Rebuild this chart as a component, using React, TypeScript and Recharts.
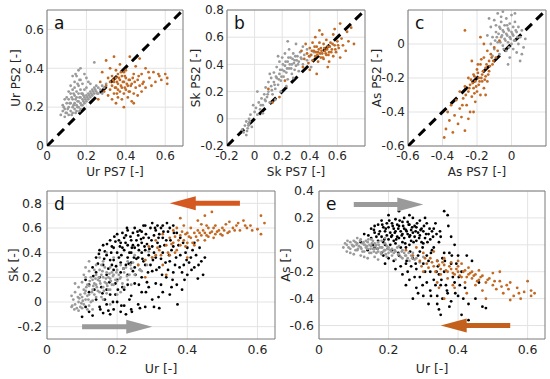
import React from "react";
import {
  ScatterChart, Scatter, XAxis, YAxis, CartesianGrid, ReferenceLine, ReferenceArea, ReferenceDot, Label,
} from "recharts";

type P = [number, number];

// ---------- Panel a: Ur PS7 vs Ur PS2 ----------
const aGray: P[] = [[0.07,0.16],[0.08,0.18],[0.08,0.21],[0.09,0.15],[0.09,0.19],[0.10,0.17],[0.10,0.22],[0.10,0.25],[0.11,0.16],[0.11,0.20],[0.11,0.24],[0.12,0.18],[0.12,0.22],[0.12,0.27],[0.12,0.31],[0.13,0.17],[0.13,0.20],[0.13,0.24],[0.13,0.29],[0.14,0.19],[0.14,0.22],[0.14,0.26],[0.14,0.33],[0.15,0.18],[0.15,0.21],[0.15,0.25],[0.15,0.28],[0.15,0.36],[0.16,0.20],[0.16,0.23],[0.16,0.27],[0.16,0.31],[0.16,0.39],[0.17,0.19],[0.17,0.22],[0.17,0.25],[0.17,0.29],[0.17,0.34],[0.17,0.40],[0.18,0.21],[0.18,0.24],[0.18,0.27],[0.18,0.32],[0.19,0.22],[0.19,0.25],[0.19,0.29],[0.20,0.23],[0.20,0.26],[0.20,0.30],[0.20,0.35],[0.21,0.24],[0.21,0.27],[0.22,0.25],[0.22,0.28],[0.22,0.32],[0.23,0.26],[0.23,0.29],[0.24,0.27],[0.24,0.30],[0.24,0.43],[0.25,0.28],[0.25,0.31],[0.26,0.27],[0.26,0.30],[0.27,0.29],[0.28,0.31],[0.28,0.27],[0.29,0.30],[0.30,0.32],[0.13,0.36],[0.11,0.28],[0.09,0.24],[0.19,0.37],[0.21,0.33],[0.14,0.30]];
const aGray2: P[] = [[0.105,0.19],[0.115,0.22],[0.125,0.16],[0.125,0.25],[0.135,0.21],[0.135,0.27],[0.145,0.17],[0.145,0.24],[0.155,0.20],[0.155,0.23],[0.165,0.25],[0.165,0.18],[0.175,0.21],[0.175,0.27],[0.185,0.23],[0.185,0.26],[0.195,0.24],[0.205,0.25],[0.215,0.26],[0.225,0.27],[0.235,0.28],[0.245,0.29],[0.255,0.27],[0.095,0.17],[0.085,0.20],[0.155,0.32],[0.145,0.37],[0.165,0.34]];
const aOrange: P[] = [[0.26,0.24],[0.27,0.33],[0.28,0.38],[0.29,0.28],[0.30,0.31],[0.30,0.44],[0.31,0.26],[0.31,0.35],[0.32,0.29],[0.32,0.33],[0.32,0.40],[0.33,0.24],[0.33,0.31],[0.33,0.36],[0.34,0.27],[0.34,0.33],[0.35,0.22],[0.35,0.30],[0.35,0.35],[0.35,0.39],[0.36,0.25],[0.36,0.32],[0.36,0.37],[0.37,0.28],[0.37,0.34],[0.37,0.42],[0.38,0.24],[0.38,0.30],[0.38,0.36],[0.39,0.27],[0.39,0.33],[0.39,0.20],[0.40,0.29],[0.40,0.35],[0.40,0.39],[0.41,0.25],[0.41,0.31],[0.42,0.28],[0.42,0.34],[0.42,0.46],[0.43,0.23],[0.43,0.32],[0.44,0.27],[0.44,0.37],[0.45,0.30],[0.45,0.41],[0.46,0.26],[0.46,0.34],[0.47,0.31],[0.47,0.45],[0.48,0.28],[0.48,0.37],[0.49,0.33],[0.50,0.30],[0.50,0.40],[0.52,0.35],[0.53,0.31],[0.54,0.38],[0.55,0.33],[0.57,0.36],[0.58,0.34],[0.60,0.37],[0.61,0.35],[0.61,0.32],[0.34,0.46],[0.44,0.22],[0.39,0.38],[0.36,0.29]];
const aOrange2: P[] = [[0.335,0.34],[0.345,0.30],[0.355,0.33],[0.365,0.35],[0.375,0.31],[0.385,0.33],[0.395,0.30],[0.405,0.32],[0.415,0.34],[0.425,0.31],[0.435,0.35],[0.445,0.33],[0.375,0.38],[0.355,0.27],[0.395,0.36],[0.415,0.28],[0.465,0.36],[0.485,0.32],[0.515,0.38],[0.565,0.37]];

// ---------- Panel b: Sk PS7 vs Sk PS2 ----------
const bGray: P[] = [[-0.09,-0.08],[-0.08,-0.10],[-0.07,-0.05],[-0.06,-0.12],[-0.06,-0.02],[-0.05,-0.07],[-0.04,0.00],[-0.04,-0.04],[-0.03,0.03],[-0.02,-0.06],[0.00,0.05],[0.01,0.08],[0.02,0.03],[0.03,0.12],[0.04,0.07],[0.05,0.15],[0.06,0.10],[0.07,0.18],[0.08,0.13],[0.08,0.23],[0.09,0.16],[0.10,0.20],[0.10,0.27],[0.11,0.12],[0.12,0.24],[0.12,0.30],[0.13,0.18],[0.14,0.27],[0.14,0.34],[0.15,0.22],[0.16,0.30],[0.16,0.38],[0.17,0.25],[0.18,0.33],[0.18,0.42],[0.19,0.28],[0.20,0.36],[0.20,0.45],[0.21,0.31],[0.22,0.39],[0.22,0.48],[0.23,0.34],[0.24,0.42],[0.24,0.29],[0.25,0.37],[0.25,0.51],[0.26,0.45],[0.27,0.33],[0.27,0.40],[0.28,0.48],[0.29,0.36],[0.29,0.43],[0.30,0.39],[0.30,0.55],[0.31,0.46],[0.32,0.42],[0.32,0.35],[0.33,0.49],[0.34,0.44],[0.35,0.40],[0.35,0.53],[0.36,0.47],[0.38,0.43],[0.38,0.51],[0.40,0.46],[0.41,0.38],[0.43,0.49],[0.06,0.04],[0.15,0.14],[0.19,0.20],[0.23,0.24],[0.28,0.30],[0.11,0.33],[0.17,0.46],[0.24,0.57],[0.02,0.20],[-0.01,0.10]];
const bGray2: P[] = [[0.145,0.25],[0.155,0.31],[0.175,0.29],[0.185,0.36],[0.195,0.31],[0.205,0.40],[0.215,0.35],[0.225,0.42],[0.235,0.37],[0.245,0.45],[0.255,0.40],[0.265,0.37],[0.275,0.44],[0.285,0.41],[0.295,0.46],[0.305,0.43],[0.315,0.40],[0.335,0.45],[0.125,0.21],[0.095,0.18],[0.075,0.14],[0.045,0.10],[-0.035,-0.02],[-0.055,-0.09],[-0.045,-0.05]];
const bOrange: P[] = [[0.10,0.22],[0.13,0.12],[0.18,0.16],[0.22,0.28],[0.34,0.50],[0.36,0.44],[0.37,0.55],[0.38,0.48],[0.39,0.41],[0.40,0.52],[0.41,0.47],[0.42,0.56],[0.42,0.43],[0.43,0.50],[0.44,0.46],[0.44,0.60],[0.45,0.53],[0.46,0.42],[0.46,0.49],[0.47,0.56],[0.48,0.45],[0.48,0.52],[0.49,0.48],[0.49,0.62],[0.50,0.55],[0.50,0.44],[0.51,0.50],[0.52,0.47],[0.52,0.58],[0.53,0.53],[0.54,0.49],[0.54,0.42],[0.55,0.56],[0.56,0.51],[0.57,0.46],[0.57,0.62],[0.58,0.54],[0.59,0.49],[0.60,0.57],[0.61,0.52],[0.62,0.45],[0.63,0.59],[0.64,0.54],[0.66,0.50],[0.67,0.64],[0.68,0.57],[0.70,0.67],[0.72,0.55],[0.40,0.36],[0.45,0.33],[0.53,0.38],[0.58,0.66],[0.47,0.65],[0.35,0.38],[0.62,0.70]];
const bOrange2: P[] = [[0.455,0.47],[0.465,0.51],[0.475,0.48],[0.485,0.50],[0.495,0.45],[0.505,0.52],[0.515,0.48],[0.525,0.51],[0.535,0.47],[0.545,0.53],[0.555,0.49],[0.565,0.55],[0.435,0.53],[0.445,0.49],[0.415,0.50],[0.395,0.46],[0.585,0.51],[0.605,0.54]];

// ---------- Panel c: As PS7 vs As PS2 ----------
const cGray: P[] = [[-0.14,0.05],[-0.12,0.00],[-0.12,0.10],[-0.11,0.04],[-0.10,-0.03],[-0.10,0.14],[-0.09,0.07],[-0.08,0.01],[-0.08,0.18],[-0.07,0.10],[-0.07,-0.06],[-0.06,0.04],[-0.06,0.13],[-0.05,-0.01],[-0.05,0.08],[-0.05,0.19],[-0.04,0.03],[-0.04,0.11],[-0.03,-0.04],[-0.03,0.06],[-0.03,0.15],[-0.02,0.01],[-0.02,0.09],[-0.01,-0.08],[-0.01,0.04],[-0.01,0.12],[0.00,0.00],[0.00,0.07],[0.00,0.17],[0.01,-0.03],[0.01,0.05],[0.01,0.10],[0.02,0.02],[0.02,0.13],[0.03,-0.05],[0.03,0.07],[0.04,0.00],[0.04,0.10],[0.05,-0.10],[0.05,0.04],[0.06,0.08],[0.07,-0.02],[0.08,0.03],[-0.09,0.11],[-0.13,0.15],[-0.02,-0.12],[0.02,0.18],[-0.06,0.16],[-0.11,-0.07],[0.06,-0.06]];
const cGray2: P[] = [[-0.085,0.04],[-0.075,0.06],[-0.065,0.01],[-0.055,0.05],[-0.045,0.07],[-0.035,0.02],[-0.025,0.05],[-0.015,0.08],[-0.005,0.03],[0.005,0.06],[0.015,0.02],[0.025,0.08],[-0.065,0.09],[-0.045,-0.03],[-0.025,0.11],[0.035,0.04],[-0.095,0.02],[-0.015,-0.02]];
const cOrange: P[] = [[-0.39,-0.55],[-0.38,-0.50],[-0.37,-0.40],[-0.36,-0.45],[-0.35,-0.36],[-0.34,-0.52],[-0.33,-0.42],[-0.32,-0.33],[-0.31,-0.47],[-0.30,-0.38],[-0.30,-0.28],[-0.29,-0.43],[-0.28,-0.32],[-0.27,-0.25],[-0.27,-0.51],[-0.26,-0.36],[-0.25,-0.28],[-0.25,-0.20],[-0.24,-0.40],[-0.24,-0.24],[-0.23,-0.31],[-0.22,-0.18],[-0.22,-0.26],[-0.21,-0.22],[-0.21,-0.34],[-0.20,-0.15],[-0.20,-0.28],[-0.19,-0.20],[-0.19,-0.24],[-0.18,-0.12],[-0.18,-0.30],[-0.17,-0.18],[-0.17,-0.22],[-0.16,-0.08],[-0.16,-0.26],[-0.15,-0.14],[-0.15,-0.19],[-0.14,-0.04],[-0.14,-0.22],[-0.13,-0.10],[-0.13,-0.16],[-0.12,-0.06],[-0.11,-0.12],[-0.10,-0.02],[-0.09,-0.08],[-0.08,-0.04],[-0.07,0.02],[-0.27,0.08],[-0.18,0.04],[-0.25,-0.44],[-0.22,-0.40],[-0.15,-0.30],[-0.23,-0.10],[-0.16,0.00]];
const cOrange2: P[] = [[-0.245,-0.26],[-0.235,-0.21],[-0.225,-0.23],[-0.215,-0.19],[-0.205,-0.25],[-0.195,-0.17],[-0.185,-0.22],[-0.175,-0.20],[-0.165,-0.16],[-0.155,-0.21],[-0.145,-0.12],[-0.135,-0.18],[-0.125,-0.13],[-0.115,-0.08],[-0.105,-0.10],[-0.265,-0.30],[-0.285,-0.36],[-0.215,-0.29],[-0.195,-0.12],[-0.175,-0.09]];

// ---------- Panel d: Ur vs Sk ----------
const dGray: P[] = [[0.07,-0.04],[0.07,0.05],[0.08,-0.02],[0.08,0.08],[0.09,0.00],[0.09,0.12],[0.10,-0.05],[0.10,0.04],[0.10,0.16],[0.11,0.02],[0.11,0.09],[0.11,0.20],[0.12,-0.03],[0.12,0.06],[0.12,0.13],[0.12,0.25],[0.13,0.01],[0.13,0.10],[0.13,0.18],[0.14,0.04],[0.14,0.14],[0.14,0.22],[0.14,0.30],[0.15,0.08],[0.15,0.17],[0.15,0.26],[0.16,0.02],[0.16,0.12],[0.16,0.20],[0.16,0.33],[0.17,0.07],[0.17,0.15],[0.17,0.24],[0.18,0.10],[0.18,0.19],[0.18,0.28],[0.19,0.14],[0.19,0.22],[0.19,0.36],[0.20,0.06],[0.20,0.17],[0.20,0.26],[0.21,0.20],[0.21,0.30],[0.22,0.12],[0.22,0.24],[0.23,0.18],[0.23,0.33],[0.24,0.27],[0.25,0.22],[0.25,0.38],[0.26,0.30],[0.27,0.25],[0.28,0.34],[0.29,0.41],[0.30,0.36],[0.09,-0.07],[0.13,-0.06],[0.15,0.36],[0.18,-0.02],[0.11,0.28],[0.17,0.40],[0.21,0.08],[0.24,0.14],[0.08,0.15],[0.12,0.33]];
const dGray2: P[] = [[0.075,0.02],[0.085,-0.05],[0.095,0.06],[0.105,0.10],[0.105,-0.02],[0.115,0.14],[0.115,0.05],[0.125,0.20],[0.125,0.00],[0.135,0.15],[0.135,0.06],[0.145,0.18],[0.145,0.09],[0.155,0.22],[0.155,0.04],[0.165,0.16],[0.165,0.28],[0.175,0.10],[0.175,0.20],[0.185,0.14],[0.185,0.24],[0.195,0.18],[0.205,0.22],[0.215,0.15],[0.225,0.28],[0.235,0.22],[0.245,0.32],[0.265,0.26],[0.285,0.30],[0.105,0.22],[0.135,0.26],[0.155,0.30],[0.095,-0.04],[0.115,-0.06]];
const dGray3: P[] = [[0.078,-0.06],[0.092,0.03],[0.098,-0.01],[0.108,0.07],[0.112,0.12],[0.118,0.02],[0.122,0.17],[0.128,0.08],[0.132,0.13],[0.138,0.19],[0.142,0.12],[0.148,0.20],[0.152,0.15],[0.158,0.25],[0.162,0.09],[0.168,0.19],[0.172,0.13],[0.178,0.23],[0.182,0.17],[0.188,0.21],[0.198,0.24],[0.208,0.19],[0.218,0.27],[0.228,0.21],[0.238,0.30],[0.102,0.01],[0.088,0.04],[0.072,-0.03]];
const dBlack: P[] = [[0.10,-0.12],[0.11,0.18],[0.12,-0.08],[0.12,0.08],[0.13,0.28],[0.13,-0.11],[0.14,0.36],[0.14,0.02],[0.15,0.42],[0.15,-0.04],[0.15,0.20],[0.16,0.30],[0.16,0.46],[0.16,-0.09],[0.17,0.38],[0.17,0.10],[0.17,-0.02],[0.18,0.50],[0.18,0.34],[0.18,0.06],[0.19,0.44],[0.19,0.26],[0.19,-0.06],[0.20,0.55],[0.20,0.40],[0.20,0.18],[0.20,0.00],[0.21,0.48],[0.21,0.32],[0.21,-0.08],[0.22,0.52],[0.22,0.42],[0.22,0.10],[0.22,-0.03],[0.23,0.58],[0.23,0.46],[0.23,0.36],[0.23,0.22],[0.24,0.50],[0.24,0.40],[0.24,0.05],[0.24,-0.06],[0.25,0.60],[0.25,0.44],[0.25,0.28],[0.25,0.15],[0.26,0.54],[0.26,0.36],[0.26,-0.02],[0.27,0.57],[0.27,0.48],[0.27,0.20],[0.27,0.08],[0.28,0.62],[0.28,0.42],[0.28,0.30],[0.28,-0.04],[0.29,0.52],[0.29,0.12],[0.30,0.64],[0.30,0.45],[0.30,0.25],[0.30,0.02],[0.31,0.58],[0.31,0.36],[0.31,0.15],[0.32,0.55],[0.32,0.28],[0.32,-0.05],[0.33,0.62],[0.33,0.40],[0.33,0.08],[0.34,0.50],[0.34,0.20],[0.35,0.60],[0.35,0.33],[0.35,0.06],[0.36,0.45],[0.36,0.24],[0.37,0.56],[0.37,0.14],[0.38,0.38],[0.38,0.52],[0.39,0.30],[0.40,0.44],[0.40,0.22],[0.41,0.36],[0.42,0.48],[0.42,0.28],[0.43,0.19],[0.44,0.33],[0.45,0.36],[0.19,0.34],[0.21,0.24],[0.23,0.14],[0.26,0.46],[0.29,0.38],[0.14,0.24],[0.12,0.14],[0.17,0.22],[0.33,0.52],[0.36,0.62],[0.24,0.32],[0.27,0.40],[0.18,-0.10],[0.11,-0.04]];
const dBlack2: P[] = [[0.145,0.31],[0.155,0.12],[0.165,0.41],[0.175,0.27],[0.185,0.45],[0.195,0.15],[0.205,0.36],[0.205,0.50],[0.215,0.12],[0.215,0.44],[0.225,0.30],[0.225,0.54],[0.235,0.40],[0.235,0.02],[0.245,0.25],[0.245,0.56],[0.255,0.35],[0.255,0.50],[0.265,0.26],[0.265,0.58],[0.275,0.33],[0.275,0.52],[0.285,0.47],[0.285,0.16],[0.295,0.60],[0.295,0.30],[0.305,0.40],[0.305,0.54],[0.315,0.48],[0.315,0.62],[0.325,0.35],[0.325,0.60],[0.335,0.46],[0.345,0.57],[0.355,0.42],[0.365,0.30],[0.375,0.46],[0.385,0.24],[0.395,0.40],[0.405,0.32],[0.425,0.38],[0.445,0.22],[0.325,0.14],[0.305,-0.04],[0.265,-0.05],[0.225,-0.10],[0.195,0.06],[0.175,-0.07],[0.135,0.10],[0.165,0.02],[0.185,0.30],[0.245,0.46],[0.275,0.62],[0.215,0.56],[0.195,0.49],[0.345,0.26],[0.355,0.12],[0.385,0.10],[0.415,0.42],[0.435,0.44]];
const dBlack3: P[] = [[0.132,0.21],[0.148,0.39],[0.158,0.07],[0.163,0.35],[0.171,0.47],[0.178,0.16],[0.183,0.40],[0.192,0.53],[0.197,0.29],[0.202,0.10],[0.208,0.45],[0.212,0.38],[0.218,0.27],[0.224,0.48],[0.228,0.60],[0.233,0.31],[0.238,0.53],[0.242,0.44],[0.248,0.36],[0.252,0.22],[0.258,0.57],[0.262,0.42],[0.268,0.51],[0.272,0.35],[0.278,0.45],[0.282,0.55],[0.288,0.24],[0.292,0.43],[0.298,0.50],[0.302,0.34],[0.308,0.60],[0.312,0.26],[0.318,0.52],[0.322,0.45],[0.328,0.22],[0.332,0.57],[0.338,0.32],[0.342,0.64],[0.348,0.38],[0.352,0.50],[0.358,0.18],[0.362,0.56],[0.368,0.36],[0.378,0.28],[0.388,0.48],[0.398,0.34],[0.412,0.26],[0.432,0.30],[0.262,0.14],[0.282,0.08],[0.242,-0.08],[0.212,-0.03],[0.152,-0.06],[0.188,0.00],[0.318,0.04],[0.372,-0.02],[0.392,0.18]];
const dOrange: P[] = [[0.26,0.30],[0.28,0.20],[0.29,0.45],[0.30,0.36],[0.31,0.50],[0.32,0.42],[0.33,0.30],[0.33,0.55],[0.34,0.46],[0.35,0.38],[0.35,0.52],[0.36,0.58],[0.36,0.48],[0.37,0.42],[0.37,0.60],[0.38,0.54],[0.38,0.46],[0.39,0.50],[0.39,0.62],[0.40,0.56],[0.40,0.48],[0.41,0.52],[0.41,0.60],[0.42,0.56],[0.42,0.46],[0.43,0.58],[0.43,0.50],[0.44,0.54],[0.44,0.63],[0.45,0.56],[0.45,0.50],[0.46,0.60],[0.46,0.53],[0.47,0.57],[0.47,0.73],[0.48,0.55],[0.48,0.62],[0.49,0.58],[0.50,0.60],[0.50,0.54],[0.51,0.63],[0.52,0.57],[0.52,0.65],[0.53,0.60],[0.54,0.62],[0.55,0.58],[0.56,0.66],[0.57,0.60],[0.58,0.62],[0.60,0.59],[0.61,0.70],[0.61,0.55],[0.62,0.64],[0.34,0.22],[0.31,0.38],[0.40,0.36],[0.45,0.70],[0.43,0.66],[0.38,0.68],[0.28,0.34]];
const dOrange2: P[] = [[0.345,0.40],[0.355,0.47],[0.365,0.53],[0.375,0.50],[0.385,0.57],[0.395,0.45],[0.405,0.53],[0.415,0.48],[0.425,0.53],[0.435,0.56],[0.445,0.58],[0.455,0.54],[0.465,0.56],[0.475,0.60],[0.485,0.57],[0.495,0.55],[0.505,0.58],[0.515,0.56],[0.535,0.58],[0.545,0.64],[0.565,0.62],[0.585,0.58],[0.325,0.38],[0.315,0.44],[0.365,0.40],[0.395,0.55],[0.455,0.62],[0.475,0.52]];

// ---------- Panel e: Ur vs As ----------
const eGray: P[] = [[0.07,-0.02],[0.08,0.00],[0.08,-0.05],[0.09,0.02],[0.09,-0.03],[0.10,-0.01],[0.10,0.03],[0.10,-0.07],[0.11,0.01],[0.11,-0.04],[0.12,-0.02],[0.12,0.04],[0.12,-0.08],[0.13,0.00],[0.13,-0.05],[0.14,0.02],[0.14,-0.03],[0.14,-0.10],[0.15,-0.01],[0.15,0.04],[0.15,-0.06],[0.16,-0.03],[0.16,0.01],[0.16,-0.09],[0.17,-0.05],[0.17,0.02],[0.18,-0.02],[0.18,-0.07],[0.19,-0.04],[0.19,0.01],[0.20,-0.06],[0.20,-0.02],[0.21,-0.08],[0.21,-0.03],[0.22,-0.05],[0.22,-0.11],[0.23,-0.07],[0.24,-0.04],[0.24,-0.10],[0.25,-0.08],[0.26,-0.12],[0.27,-0.06],[0.28,-0.10],[0.29,-0.13],[0.30,-0.09],[0.11,0.05],[0.13,-0.09],[0.17,-0.11],[0.19,0.05],[0.23,-0.01],[0.09,-0.06],[0.18,0.03]];
const eGray2: P[] = [[0.075,0.01],[0.085,-0.02],[0.095,0.00],[0.105,0.02],[0.105,-0.04],[0.115,-0.01],[0.125,0.01],[0.125,-0.05],[0.135,-0.02],[0.135,0.03],[0.145,-0.06],[0.145,0.00],[0.155,-0.03],[0.165,-0.06],[0.165,0.00],[0.175,-0.02],[0.185,-0.05],[0.195,-0.01],[0.205,-0.04],[0.215,-0.06],[0.225,-0.02],[0.235,-0.09],[0.245,-0.06],[0.255,-0.10],[0.265,-0.08],[0.275,-0.11],[0.195,-0.09],[0.155,0.03]];
const eGray3: P[] = [[0.082,0.03],[0.098,-0.01],[0.108,0.00],[0.118,0.03],[0.122,-0.03],[0.128,0.02],[0.138,-0.01],[0.142,0.04],[0.148,-0.03],[0.152,0.01],[0.158,-0.05],[0.162,-0.01],[0.168,-0.03],[0.172,0.00],[0.178,-0.06],[0.182,-0.02],[0.188,-0.04],[0.192,-0.07],[0.198,-0.03],[0.208,-0.05],[0.218,-0.04],[0.228,-0.07],[0.238,-0.05],[0.248,-0.08],[0.258,-0.06],[0.268,-0.10],[0.112,-0.03],[0.132,0.00]];
const eBlack: P[] = [[0.12,0.02],[0.13,0.08],[0.14,-0.04],[0.15,0.05],[0.15,0.12],[0.16,-0.02],[0.16,0.09],[0.17,0.03],[0.17,0.15],[0.18,-0.06],[0.18,0.06],[0.18,0.18],[0.19,0.00],[0.19,0.10],[0.20,0.04],[0.20,0.13],[0.20,0.22],[0.20,-0.10],[0.21,0.07],[0.21,0.16],[0.21,-0.04],[0.22,0.01],[0.22,0.10],[0.22,0.19],[0.22,-0.18],[0.23,0.05],[0.23,0.14],[0.23,-0.08],[0.24,0.08],[0.24,0.02],[0.24,-0.22],[0.24,0.17],[0.25,0.11],[0.25,-0.02],[0.25,-0.14],[0.26,0.06],[0.26,0.15],[0.26,-0.26],[0.26,0.00],[0.27,0.09],[0.27,-0.10],[0.27,0.20],[0.28,0.03],[0.28,0.13],[0.28,-0.18],[0.28,-0.32],[0.29,0.07],[0.29,-0.05],[0.29,-0.24],[0.30,0.10],[0.30,-0.14],[0.30,0.01],[0.30,-0.38],[0.31,0.16],[0.31,-0.08],[0.31,-0.28],[0.32,0.04],[0.32,-0.20],[0.32,-0.34],[0.33,0.12],[0.33,-0.02],[0.33,-0.26],[0.34,-0.12],[0.34,-0.44],[0.35,0.06],[0.35,-0.30],[0.35,-0.52],[0.36,0.25],[0.36,-0.06],[0.36,-0.20],[0.37,0.22],[0.37,-0.36],[0.38,-0.14],[0.38,-0.42],[0.39,0.00],[0.39,-0.28],[0.40,-0.08],[0.40,-0.38],[0.41,-0.20],[0.41,-0.52],[0.42,-0.32],[0.43,-0.44],[0.44,-0.12],[0.45,-0.40],[0.46,-0.28],[0.47,-0.46],[0.48,-0.47],[0.27,-0.40],[0.25,-0.30],[0.19,-0.14],[0.23,0.25],[0.16,0.14],[0.38,0.06],[0.43,-0.56],[0.34,-0.38],[0.29,0.18],[0.26,0.22]];
const eBlack2: P[] = [[0.165,0.06],[0.175,0.10],[0.185,0.02],[0.185,0.13],[0.195,0.07],[0.195,0.16],[0.205,0.00],[0.205,0.09],[0.215,0.12],[0.215,0.03],[0.225,0.06],[0.225,0.15],[0.235,0.10],[0.235,-0.02],[0.245,0.12],[0.245,0.05],[0.255,0.08],[0.255,0.17],[0.265,0.11],[0.265,0.03],[0.275,0.06],[0.275,0.14],[0.285,0.09],[0.285,-0.08],[0.295,0.12],[0.295,0.02],[0.305,0.05],[0.305,-0.20],[0.315,0.08],[0.315,-0.12],[0.325,-0.04],[0.325,0.10],[0.335,-0.30],[0.345,0.02],[0.345,-0.22],[0.355,-0.10],[0.355,-0.40],[0.365,-0.30],[0.375,-0.06],[0.375,-0.46],[0.385,-0.24],[0.395,-0.14],[0.405,-0.30],[0.415,-0.40],[0.425,-0.08],[0.265,-0.16],[0.275,-0.24],[0.255,-0.20],[0.285,-0.36],[0.315,-0.44],[0.215,-0.12],[0.235,-0.16],[0.335,0.16],[0.305,0.20],[0.245,0.20],[0.185,-0.08],[0.155,0.00],[0.345,-0.48]];
const eBlack3: P[] = [[0.142,0.07],[0.158,0.11],[0.168,-0.03],[0.172,0.08],[0.182,0.15],[0.188,0.04],[0.192,0.12],[0.198,-0.03],[0.202,0.18],[0.208,0.06],[0.212,0.14],[0.218,0.09],[0.222,0.04],[0.228,0.12],[0.232,0.18],[0.238,0.07],[0.242,0.14],[0.248,0.01],[0.252,0.10],[0.258,0.15],[0.262,0.07],[0.268,0.13],[0.272,0.02],[0.278,0.10],[0.282,0.16],[0.288,0.05],[0.292,0.11],[0.298,-0.02],[0.302,0.14],[0.308,0.08],[0.312,0.02],[0.318,0.12],[0.322,-0.06],[0.328,0.06],[0.338,0.08],[0.342,-0.16],[0.348,0.10],[0.352,-0.26],[0.362,-0.12],[0.368,-0.34],[0.372,0.14],[0.382,-0.08],[0.392,-0.36],[0.402,-0.24],[0.252,-0.12],[0.278,-0.14],[0.298,-0.30],[0.322,-0.38],[0.338,-0.20],[0.228,-0.06],[0.262,-0.05]];
const eOrange: P[] = [[0.25,-0.04],[0.27,-0.08],[0.28,-0.02],[0.29,-0.12],[0.30,-0.06],[0.31,-0.14],[0.32,-0.10],[0.33,-0.16],[0.33,-0.05],[0.34,-0.12],[0.35,-0.18],[0.35,-0.22],[0.36,-0.10],[0.36,-0.15],[0.37,-0.20],[0.37,-0.25],[0.38,-0.13],[0.38,-0.18],[0.39,-0.22],[0.39,-0.32],[0.40,-0.16],[0.40,-0.20],[0.41,-0.24],[0.41,-0.14],[0.42,-0.19],[0.42,-0.28],[0.43,-0.22],[0.43,-0.17],[0.44,-0.25],[0.44,-0.20],[0.45,-0.22],[0.45,-0.30],[0.46,-0.26],[0.46,-0.19],[0.47,-0.23],[0.47,-0.34],[0.48,-0.28],[0.49,-0.25],[0.50,-0.30],[0.50,-0.21],[0.51,-0.33],[0.52,-0.27],[0.53,-0.36],[0.54,-0.30],[0.55,-0.28],[0.56,-0.38],[0.57,-0.32],[0.58,-0.40],[0.59,-0.35],[0.60,-0.27],[0.61,-0.38],[0.61,-0.34],[0.62,-0.36],[0.30,-0.20],[0.34,-0.28],[0.36,-0.40],[0.40,-0.12],[0.48,-0.40],[0.52,-0.20],[0.55,-0.41]];
const eOrange2: P[] = [[0.305,-0.10],[0.315,-0.17],[0.325,-0.13],[0.335,-0.20],[0.345,-0.15],[0.355,-0.13],[0.365,-0.19],[0.375,-0.16],[0.385,-0.21],[0.395,-0.18],[0.405,-0.23],[0.415,-0.20],[0.425,-0.24],[0.435,-0.21],[0.445,-0.23],[0.455,-0.27],[0.465,-0.24],[0.485,-0.26],[0.505,-0.27],[0.525,-0.31],[0.545,-0.33],[0.575,-0.36],[0.345,-0.32],[0.385,-0.30],[0.425,-0.36],[0.295,-0.16]];

// ---------- ticks ----------
const ticksA = [0, 0.2, 0.4, 0.6];
const ticksBx = [-0.2, 0, 0.2, 0.4, 0.6];
const ticksBy = [-0.2, 0, 0.2, 0.4, 0.6, 0.8];
const ticksC = [-0.6, -0.4, -0.2, 0];
const ticksUr = [0, 0.2, 0.4, 0.6];
const ticksSk = [-0.2, 0, 0.2, 0.4, 0.6, 0.8];
const ticksAs = [-0.6, -0.4, -0.2, 0, 0.2, 0.4];

const GRAY = "#9a9a9a";
const ORANGE = "#c26a24";
const BLACK = "#000000";
const TXT = "#262626";
const FONT = "DejaVu Sans";

type Series = { pts: P[]; color: string };
type Arrow = { y: number; from: number; to: number; color: string };

const toObj = (pts: P[]) => pts.map(([x, y]) => ({ x, y }));
const fmt = (v: number) => (Math.abs(v) < 1e-9 ? "0" : String(Math.round(v * 10) / 10));

function Panel(props: {
  l: number; t: number; w: number; h: number;
  xDomain: [number, number]; yDomain: [number, number];
  xTicks: number[]; yTicks: number[];
  xLabel: string; yLabel: string; letter: string;
  series: Series[]; diagonal?: boolean; arrows?: Arrow[];
  yLabelDist: number; xLabelDist: number; xTickMargin: number; yTickMargin: number; fs: number;
}) {
  const YW = 45, XH = 40, MT = 10, MR = 5;
  const { l, t, w, h, xDomain, yDomain } = props;
  const tickStyle = { fontSize: props.fs, fill: TXT, fontFamily: FONT };
  const headLen = 0.075;
  return (
    <div style={{ position: "absolute", left: l - YW, top: t - MT }}>
      <ScatterChart width={YW + w + MR} height={MT + h + XH} margin={{ top: MT, right: MR, left: 0, bottom: 0 }}>
        <CartesianGrid stroke="#e3e3e3" strokeWidth={1} horizontalValues={props.yTicks} verticalValues={props.xTicks} />
        <XAxis
          type="number" dataKey="x" domain={xDomain} ticks={props.xTicks} allowDataOverflow
          height={XH} axisLine={false} tickLine={false} tickSize={0} tickMargin={props.xTickMargin}
          tick={tickStyle} tickFormatter={fmt} interval={0}
        >
          <Label
            content={({ viewBox }: any) => {
              const cx = viewBox.x + viewBox.width / 2;
              const cy = viewBox.y + props.xLabelDist;
              return (
                <text x={cx} y={cy} textAnchor="middle" dominantBaseline="central" fontSize={props.fs} fill={TXT} fontFamily={FONT}>
                  {props.xLabel}
                </text>
              );
            }}
          />
        </XAxis>
        <YAxis
          type="number" dataKey="y" domain={yDomain} ticks={props.yTicks} allowDataOverflow
          width={YW} axisLine={false} tickLine={false} tickSize={0} tickMargin={props.yTickMargin}
          tick={tickStyle} tickFormatter={fmt} interval={0}
        >
          <Label
            content={({ viewBox }: any) => {
              const cx = viewBox.x + viewBox.width - props.yLabelDist;
              const cy = viewBox.y + viewBox.height / 2;
              return (
                <text x={cx} y={cy} transform={`rotate(-90 ${cx} ${cy})`} textAnchor="middle" dominantBaseline="central" fontSize={props.fs} fill={TXT} fontFamily={FONT}>
                  {props.yLabel}
                </text>
              );
            }}
          />
        </YAxis>
        {props.series.map((s, i) => (
          <Scatter
            key={i} data={toObj(s.pts)} isAnimationActive={false}
            shape={(p: any) => <circle cx={p.cx} cy={p.cy} r={1.4} fill={s.color} />}
          />
        ))}
        {props.diagonal && (
          <ReferenceLine
            segment={[{ x: xDomain[0], y: yDomain[0] }, { x: xDomain[1] + 0.05, y: yDomain[1] + 0.05 }]}
            stroke="#000" strokeWidth={3} strokeDasharray="9 6" ifOverflow="hidden"
          />
        )}
        {(props.arrows || []).map((a, i) => {
          const dir = a.to > a.from ? 1 : -1;
          const base = a.to - dir * headLen * 0.95;
          return (
            <React.Fragment key={"ar" + i}>
              <ReferenceLine segment={[{ x: a.from, y: a.y }, { x: base, y: a.y }]} stroke={a.color} strokeWidth={5} />
              <ReferenceDot
                x={a.to} y={a.y} r={1}
                shape={(p: any) => (
                  <polygon
                    points={`${p.cx},${p.cy} ${p.cx - dir * 26},${p.cy - 7} ${p.cx - dir * 26},${p.cy + 7}`}
                    fill={a.color}
                  />
                )}
              />
            </React.Fragment>
          );
        })}
        <ReferenceArea
          x1={xDomain[0]} x2={xDomain[1]} y1={yDomain[0]} y2={yDomain[1]}
          fill="none" fillOpacity={0} stroke="#7a7a7a" strokeWidth={1} ifOverflow="visible"
        >
          <Label value={props.letter} position="insideTopLeft" offset={7} fontSize={17} fill="#111" fontFamily={FONT} />
        </ReferenceArea>
      </ScatterChart>
    </div>
  );
}

export default function App() {
  const top = { fs: 12, yLabelDist: 31, xLabelDist: 26, xTickMargin: 5, yTickMargin: 3 };
  const bot = { fs: 12.5, yLabelDist: 34, xLabelDist: 29, xTickMargin: 6, yTickMargin: 5 };
  return (
    <div style={{ position: "absolute", left: 0, top: 0, width: 550, height: 379, background: "#fff", overflow: "hidden" }}>
      <Panel {...top} l={47} t={10} w={136} h={136} xDomain={[0, 0.69]} yDomain={[0, 0.7]}
        xTicks={ticksA} yTicks={ticksA} xLabel="Ur PS7 [-]" yLabel="Ur PS2 [-]" letter="a" diagonal
        series={[{ pts: aGray, color: GRAY }, { pts: aGray2, color: GRAY }, { pts: aOrange, color: ORANGE }, { pts: aOrange2, color: ORANGE }]} />
      <Panel {...top} l={227} t={10} w={138} h={136} xDomain={[-0.2, 0.8]} yDomain={[-0.2, 0.8]}
        xTicks={ticksBx} yTicks={ticksBy} xLabel="Sk PS7 [-]" yLabel="Sk PS2 [-]" letter="b" diagonal
        series={[{ pts: bGray, color: GRAY }, { pts: bGray2, color: GRAY }, { pts: bOrange, color: ORANGE }, { pts: bOrange2, color: ORANGE }]} />
      <Panel {...top} l={408} t={10} w={138} h={136} xDomain={[-0.6, 0.2]} yDomain={[-0.6, 0.2]}
        xTicks={ticksC} yTicks={ticksC} xLabel="As PS7 [-]" yLabel="As PS2 [-]" letter="c" diagonal
        series={[{ pts: cGray, color: GRAY }, { pts: cGray2, color: GRAY }, { pts: cOrange, color: ORANGE }, { pts: cOrange2, color: ORANGE }]} />
      <Panel {...bot} l={47} t={191} w={228} h={148} xDomain={[0, 0.65]} yDomain={[-0.3, 0.9]}
        xTicks={ticksUr} yTicks={ticksSk} xLabel="Ur [-]" yLabel="Sk [-]" letter="d"
        series={[{ pts: dBlack, color: BLACK }, { pts: dBlack2, color: BLACK }, { pts: dBlack3, color: BLACK }, { pts: dGray, color: GRAY }, { pts: dGray2, color: GRAY }, { pts: dGray3, color: GRAY }, { pts: dOrange, color: ORANGE }, { pts: dOrange2, color: ORANGE }]}
        arrows={[{ y: -0.2, from: 0.1, to: 0.3, color: "#9a9a9a" }, { y: 0.8, from: 0.55, to: 0.35, color: "#d4581f" }]} />
      <Panel {...bot} l={319} t={191} w={226} h={148} xDomain={[0, 0.65]} yDomain={[-0.7, 0.4]}
        xTicks={ticksUr} yTicks={ticksAs} xLabel="Ur [-]" yLabel="As [-]" letter="e"
        series={[{ pts: eBlack, color: BLACK }, { pts: eBlack2, color: BLACK }, { pts: eBlack3, color: BLACK }, { pts: eGray, color: GRAY }, { pts: eGray2, color: GRAY }, { pts: eGray3, color: GRAY }, { pts: eOrange, color: ORANGE }, { pts: eOrange2, color: ORANGE }]}
        arrows={[{ y: 0.3, from: 0.1, to: 0.3, color: "#9a9a9a" }, { y: -0.6, from: 0.55, to: 0.35, color: "#c2601c" }]} />
    </div>
  );
}
